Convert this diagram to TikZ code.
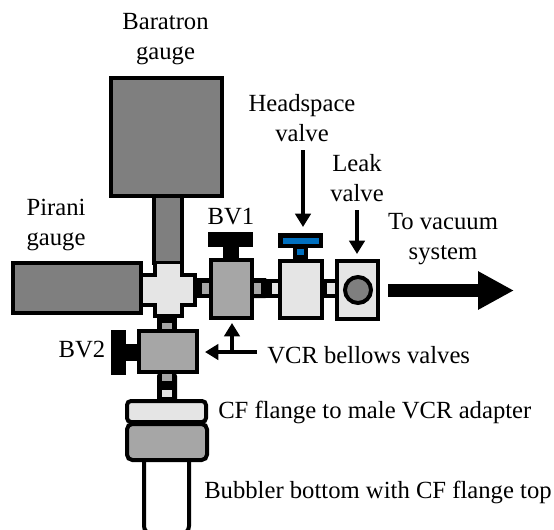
\documentclass[tikz,border=0pt]{standalone}
\usepackage{fontspec}
\setmainfont{Liberation Serif}
\definecolor{lg}{HTML}{E5E5E5}
\definecolor{mg}{HTML}{A6A6A6}
\definecolor{dg}{HTML}{7F7F7F}
\definecolor{bl}{HTML}{0070C0}
\usetikzlibrary{arrows.meta}
\tikzset{
 part/.style={draw=black,line width=3pt,line join=miter},
 lab/.style={font=\fontsize{18.5pt}{22.5pt}\selectfont,inner sep=0pt,align=center},
 linelab/.style={font=\fontsize{18.5pt}{22.5pt}\selectfont,inner sep=0pt,anchor=base west},
 pointer/.style={draw=black,line width=3pt,-{Triangle[length=10pt,width=11.5pt]}},
}
\begin{document}
\begin{tikzpicture}[x=0.75pt,y=-0.75pt]
\useasboundingbox (0,0) rectangle (554,529);
% bubbler tube
\draw[part,fill=white,rounded corners=6pt] (144,455) -- (144,534) -- (189,534) -- (189,455);
% connectors
\fill[black] (197,278) rectangle (211,298);
\fill[mg] (202,283) rectangle (211,294);
\fill[black,rounded corners=1pt] (252,278) rectangle (267,298);
\fill[black] (266,279) rectangle (280,298);
\fill[mg] (250,283) rectangle (261,294);
\fill[lg] (272,283) rectangle (280,294);
\fill[black] (322,279) rectangle (336,298);
\fill[lg] (327,283) rectangle (336,294);
\fill[black] (157,316) rectangle (177,331);
\fill[mg] (162,323) rectangle (172,331);
\fill[black,rounded corners=3pt] (157,372) rectangle (177,404);
\fill[mg] (162,374) rectangle (172,381);
\fill[lg] (162,390) rectangle (172,397);
% gauges
\draw[part,fill=dg] (111,78) rectangle (222,196);
\draw[part,fill=dg] (154,196) rectangle (182,263);
\draw[part,fill=dg] (13,263) rectangle (141,313);
% cross
\path[fill=lg] (155,264) -- (182,264) -- (182,275) -- (195,275) -- (195,305) -- (182,305) -- (182,316) -- (155,316) -- (155,305) -- (143,305) -- (143,275) -- (155,275) -- cycle;
\draw[part] (143,275) -- (155,275) -- (155,264) (182,264) -- (182,275) -- (195,275) -- (195,305) -- (182,305) -- (182,316) -- (155,316) -- (155,305) -- (143,305);
% BV1
\draw[part,fill=mg] (211,260) rectangle (252,318);
\fill[black] (208,232) rectangle (253,247);
\fill[black] (223,247) rectangle (239,258);
% Headspace valve
\draw[part,fill=lg] (280,261) rectangle (322,318);
\fill[black] (278,233) rectangle (323,248);
\fill[bl] (283,238) rectangle (319,244);
\fill[black] (293,248) rectangle (308,259);
\fill[bl] (297,249) rectangle (304,255);
% Leak valve
\draw[part,fill=lg] (337,261) rectangle (378,319);
\draw[part,fill=dg] (358,290) circle[radius=13];
% BV2
\draw[part,fill=mg] (139,331) rectangle (197,372);
\fill[black] (111,330) rectangle (126,375);
\fill[black] (126,344) rectangle (137,361);
% flange
\draw[part,fill=lg,rounded corners=3pt] (127,401) rectangle (206,422);
\draw[part,fill=mg,rounded corners=4pt] (127,424) rectangle (207,460);
% arrows
\coordinate (hs) at (303,150); \coordinate (hst) at (303,227);
\coordinate (lk) at (357,210); \coordinate (lkt) at (357,254);
\coordinate (vc) at (257,352); \coordinate (vct) at (205,352);
\coordinate (vu) at (232,352); \coordinate (vut) at (232,323);
\coordinate (big) at (388,290.5); \coordinate (bigt) at (514,290.5);
\draw[pointer] (hs) -- (hst);
\draw[pointer] (lk) -- (lkt);
\draw[pointer] (vc) -- (vct);
\draw[pointer] (vu) -- (vut);
\draw[draw=black,line width=9.4pt,-{Triangle[length=27pt,width=27pt]}] (big) -- (bigt);
% labels
\node[lab] (n1) at (165.5,39.5) {Baratron\\gauge};
\node[lab] (n2) at (56,225) {Pirani\\gauge};
\node[lab] (n3) at (231,217) {BV1};
\node[lab] (n4) at (82,350) {BV2};
\node[lab] (n5) at (302,118) {Headspace\\valve};
\node[lab] (n6) at (357,178.5) {Leak\\valve};
\node[lab] (n7) at (443,239) {To vacuum\\system};
\node[linelab] (n8) at (267,363) {VCR bellows valves};
\node[linelab] (n9) at (218,418) {CF flange to male VCR adapter};
\node[linelab] (n10) at (204,498) {Bubbler bottom with CF flange top};
\end{tikzpicture}
\end{document}
